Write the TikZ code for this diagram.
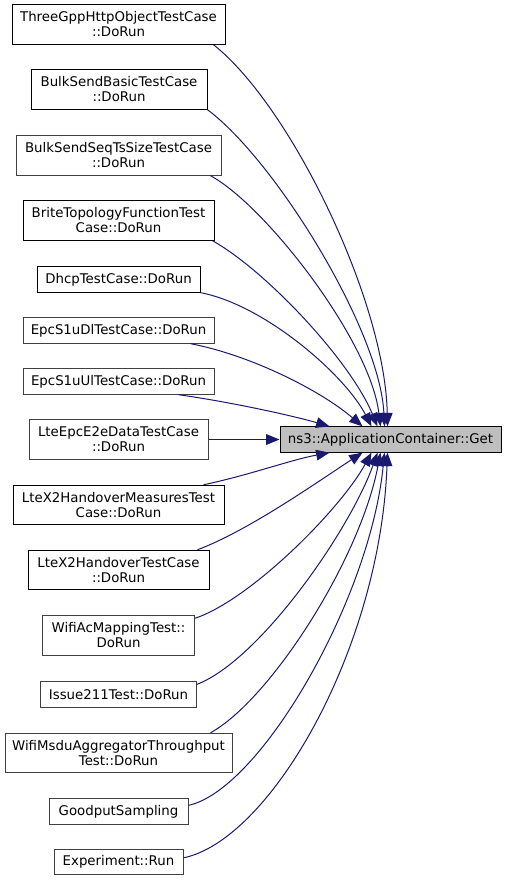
\documentclass[tikz,border=0pt]{standalone}
\usepackage{fontspec}
\setmainfont{DejaVu Sans}
\usetikzlibrary{arrows.meta,calc}
\definecolor{edgeblue}{HTML}{191970}
\definecolor{boxgrey}{HTML}{404040}

\begin{document}
\begin{tikzpicture}[x=0.75pt, y=-0.75pt,
        fn/.style={draw=black, fill=white, line width=0.75pt, align=center, inner sep=0pt,
            font=\fontsize{10}{11.25}\selectfont},
        one/.style={fn, minimum height=19pt},
        two/.style={fn, minimum height=29.6pt},
        grey/.style={draw=boxgrey},
        call/.style={edgeblue, line width=0.75pt, -{Triangle[length=10pt,width=8pt]}}]

        % Frame
        \useasboundingbox (0,0) rectangle (507,881);

        % Callee
        \node[one, fill=black!25, minimum width=165.75pt] (tgt) at (390.5,439.5) {ns3::ApplicationContainer::Get};

        % Callers
        \node[two, minimum width=159.75pt] (b1) at (118.5,24.5) {ThreeGppHttpObjectTestCase\\::DoRun};
        \node[two, minimum width=132pt] (b2) at (119,89.5) {BulkSendBasicTestCase\\::DoRun};
        \node[two, grey, minimum width=153.75pt] (b3) at (118.5,155.5) {BulkSendSeqTsSizeTestCase\\::DoRun};
        \node[two, minimum width=143.25pt] (b4) at (118.5,220.5) {BriteTopologyFunctionTest\\Case::DoRun};
        \node[one, minimum width=122.25pt] (b5) at (118.5,279.5) {DhcpTestCase::DoRun};
        \node[one, grey, minimum width=143.25pt] (b6) at (118.5,330.5) {EpcS1uDlTestCase::DoRun};
        \node[one, grey, minimum width=143.25pt] (b7) at (118.5,381.5) {EpcS1uUlTestCase::DoRun};
        \node[two, grey, minimum width=134.25pt] (b8) at (118.5,439.5) {LteEpcE2eDataTestCase\\::DoRun};
        \node[two, minimum width=158.25pt] (b9) at (118.5,505) {LteX2HandoverMeasuresTest\\Case::DoRun};
        \node[two, minimum width=135.75pt] (b10) at (118.5,570) {LteX2HandoverTestCase\\::DoRun};
        \node[two, grey, minimum width=114pt] (b11) at (118.5,635.5) {WifiAcMappingTest::\\DoRun};
        \node[one, grey, minimum width=117pt] (b12) at (118.5,694.5) {Issue211Test::DoRun};
        \node[two, grey, minimum width=170.25pt] (b13) at (118.5,753) {WifiMsduAggregatorThroughput\\Test::DoRun};
        \node[one, grey, minimum width=104.25pt] (b14) at (118.5,811.5) {GoodputSampling};
        \node[one, grey, minimum width=96.75pt] (b15) at (118.5,862) {Experiment::Run};

        % Calls into the top side
        \draw[call] ($(b1.south east)+(-12,0)$) .. controls (290,105) and (385,300) .. ($(tgt.north west)+(108,0)$);
        \draw[call] (b2.south east) .. controls (275,160) and (380,330) .. ($(tgt.north west)+(105,0)$);
        \draw[call] ($(b3.south east)+(-11,0)$) .. controls (265,205) and (370,340) .. ($(tgt.north west)+(101,0)$);
        \draw[call] ($(b4.south east)+(-2,0)$) .. controls (265,270) and (350,360) .. ($(tgt.north west)+(98,0)$);
        \draw[call] (b5.south east) .. controls (265,305) and (345,375) .. ($(tgt.north west)+(92,0)$);
        \draw[call] ($(b6.south east)+(-24,0)$) .. controls (250,355) and (320,390) .. ($(tgt.north west)+(83,0)$);
        \draw[call] ($(b7.south east)+(-36,0)$) .. controls (230,402) and (290,415) .. ($(tgt.north west)+(50,0)$);

        % Straight call
        \draw[call] (b8.east) -- (tgt.west);

        % Calls into the bottom side
        \draw[call] ($(b9.north east)+(-21,0)$) .. controls (250,475) and (290,460) .. ($(tgt.south west)+(50,0)$);
        \draw[call] ($(b10.north east)+(-12,0)$) .. controls (250,530) and (320,480) .. ($(tgt.south west)+(83,0)$);
        \draw[call] ($(b11.north east)+(0,3)$) .. controls (250,600) and (340,510) .. ($(tgt.south west)+(92,0)$);
        \draw[call] ($(b12.north east)+(0,3)$) .. controls (260,660) and (350,530) .. ($(tgt.south west)+(98,0)$);
        \draw[call] ($(b13.north east)+(-22,0)$) .. controls (270,700) and (360,560) .. ($(tgt.south west)+(101,0)$);
        \draw[call] ($(b14.north east)+(0,7)$) .. controls (260,790) and (370,600) .. ($(tgt.south west)+(105,0)$);
        \draw[call] ($(b15.north east)+(0,9)$) .. controls (270,840) and (380,650) .. ($(tgt.south west)+(108,0)$);

\end{tikzpicture}
\end{document}
